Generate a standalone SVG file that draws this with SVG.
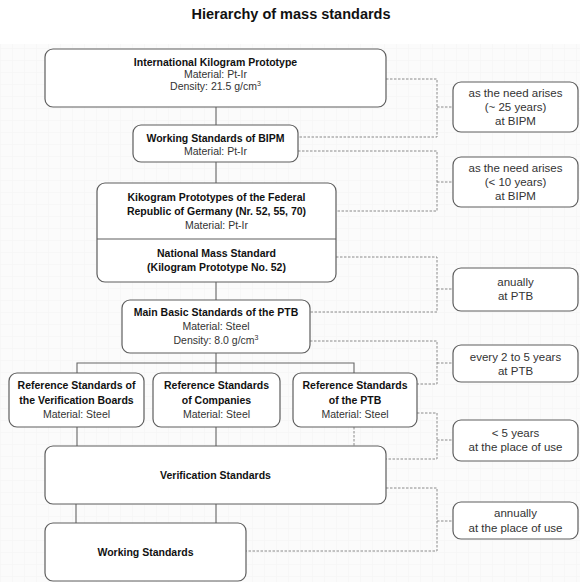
<svg xmlns="http://www.w3.org/2000/svg" width="580" height="582" viewBox="0 0 580 582">
  <defs>
    <pattern id="grid" width="12" height="12" patternUnits="userSpaceOnUse">
      <path d="M12 0H0V12" fill="none" stroke="#f3f3f3" stroke-width="1"/>
    </pattern>
  </defs>
  <style>
    .box { fill: #ffffff; stroke: #5e5e5e; stroke-width: 1.2; }
    .div { stroke: #5e5e5e; stroke-width: 1.2; }
    .link { fill: none; stroke: #666666; stroke-width: 1.1; }
    .dash { fill: none; stroke: #8a8a8a; stroke-width: 1; stroke-dasharray: 2.5 1.5; }
    text { font-family: "Liberation Sans", Arial, sans-serif; text-anchor: middle; }
    .title { font-size: 14.5px; font-weight: bold; fill: #111111; }
    .b { font-size: 10.5px; font-weight: bold; fill: #111111; }
    .r { font-size: 10.5px; fill: #333333; }
    .s { font-size: 11.5px; fill: #333333; }
  </style>

  <rect x="0" y="44" width="580" height="538" fill="#fbfbfb"/>
  <rect x="0" y="44" width="580" height="538" fill="url(#grid)"/>

  <text class="title" x="291" y="19">Hierarchy of mass standards</text>

  <!-- connectors -->
  <g id="connectors">
    <path class="link" d="M216 107V125 M216 162V183 M216 282V300 M216 353V373 M77 373V363H354V373 M77 427V446 M216 427V446 M76 504V523 M216 504V523"/>
    <path class="dash" d="M354 427V446"/>
    <path class="dash" d="M386 79H437V137H298 M437 107H453"/>
    <path class="dash" d="M298 151H437V211H336 M437 182H453"/>
    <path class="dash" d="M336 257H437V312H310 M437 289H453"/>
    <path class="dash" d="M310 341H437V384H417 M437 363H453"/>
    <path class="dash" d="M417 413H437V459H386 M437 440H453"/>
    <path class="dash" d="M386 488H437V551H246 M437 521H453"/>
  </g>

  <g id="international-prototype">
    <rect class="box" x="45" y="49" width="341" height="58" rx="8"/>
    <text class="b" x="215.5" y="66">International Kilogram Prototype</text>
    <text class="r" x="215.5" y="78">Material: Pt-Ir</text>
    <text class="r" x="215.5" y="90">Density: 21.5 g/cm<tspan font-size="7" dy="-4">3</tspan></text>
  </g>

  <g id="bipm-working">
    <rect class="box" x="133" y="125" width="165" height="37" rx="8"/>
    <text class="b" x="215.5" y="141.5">Working Standards of BIPM</text>
    <text class="r" x="215.5" y="155">Material: Pt-Ir</text>
  </g>

  <g id="german-prototypes">
    <rect class="box" x="97" y="183" width="239" height="99" rx="8"/>
    <line class="div" x1="97" y1="239" x2="336" y2="239"/>
    <text class="b" x="216.5" y="201">Kikogram Prototypes of the Federal</text>
    <text class="b" x="216.5" y="215">Republic of Germany (Nr. 52, 55, 70)</text>
    <text class="r" x="216.5" y="229">Material: Pt-Ir</text>
    <text class="b" x="216.5" y="257">National Mass Standard</text>
    <text class="b" x="216.5" y="271">(Kilogram Prototype No. 52)</text>
  </g>

  <g id="ptb-main">
    <rect class="box" x="122" y="300" width="188" height="53" rx="8"/>
    <text class="b" x="216" y="316">Main Basic Standards of the PTB</text>
    <text class="r" x="216" y="330">Material: Steel</text>
    <text class="r" x="216" y="344">Density: 8.0 g/cm<tspan font-size="7" dy="-4">3</tspan></text>
  </g>

  <g id="ref-verification-boards">
    <rect class="box" x="9" y="373" width="135" height="54" rx="8"/>
    <text class="b" x="76.5" y="389">Reference Standards of</text>
    <text class="b" x="76.5" y="404">the Verification Boards</text>
    <text class="r" x="76.5" y="418">Material: Steel</text>
  </g>

  <g id="ref-companies">
    <rect class="box" x="153" y="373" width="127" height="54" rx="8"/>
    <text class="b" x="216.5" y="389">Reference Standards</text>
    <text class="b" x="216.5" y="404">of Companies</text>
    <text class="r" x="216.5" y="418">Material: Steel</text>
  </g>

  <g id="ref-ptb">
    <rect class="box" x="293" y="373" width="124" height="54" rx="8"/>
    <text class="b" x="355" y="389">Reference Standards</text>
    <text class="b" x="355" y="404">of the PTB</text>
    <text class="r" x="355" y="418">Material: Steel</text>
  </g>

  <g id="verification">
    <rect class="box" x="45" y="446" width="341" height="58" rx="8"/>
    <text class="b" x="215.5" y="479">Verification Standards</text>
  </g>

  <g id="working">
    <rect class="box" x="45" y="523" width="201" height="58" rx="8"/>
    <text class="b" x="145.5" y="556">Working Standards</text>
  </g>

  <g id="interval-bipm-25">
    <rect class="box" x="453" y="82" width="125" height="50" rx="8"/>
    <text class="s" x="515.5" y="97">as the need arises</text>
    <text class="s" x="515.5" y="111">(~ 25 years)</text>
    <text class="s" x="515.5" y="125">at BIPM</text>
  </g>

  <g id="interval-bipm-10">
    <rect class="box" x="453" y="157" width="125" height="50" rx="8"/>
    <text class="s" x="515.5" y="172">as the need arises</text>
    <text class="s" x="515.5" y="186">(&lt; 10 years)</text>
    <text class="s" x="515.5" y="200">at BIPM</text>
  </g>

  <g id="interval-ptb-annual">
    <rect class="box" x="453" y="268" width="125" height="43" rx="8"/>
    <text class="s" x="515.5" y="286">anually</text>
    <text class="s" x="515.5" y="300">at PTB</text>
  </g>

  <g id="interval-ptb-2-5">
    <rect class="box" x="453" y="345" width="125" height="37" rx="8"/>
    <text class="s" x="515.5" y="361">every 2 to 5 years</text>
    <text class="s" x="515.5" y="375">at PTB</text>
  </g>

  <g id="interval-use-5">
    <rect class="box" x="453" y="420" width="125" height="41" rx="8"/>
    <text class="s" x="515.5" y="437">&lt; 5 years</text>
    <text class="s" x="515.5" y="451">at the place of use</text>
  </g>

  <g id="interval-use-annual">
    <rect class="box" x="453" y="502" width="125" height="37" rx="8"/>
    <text class="s" x="515.5" y="517">annually</text>
    <text class="s" x="515.5" y="532">at the place of use</text>
  </g>
</svg>
